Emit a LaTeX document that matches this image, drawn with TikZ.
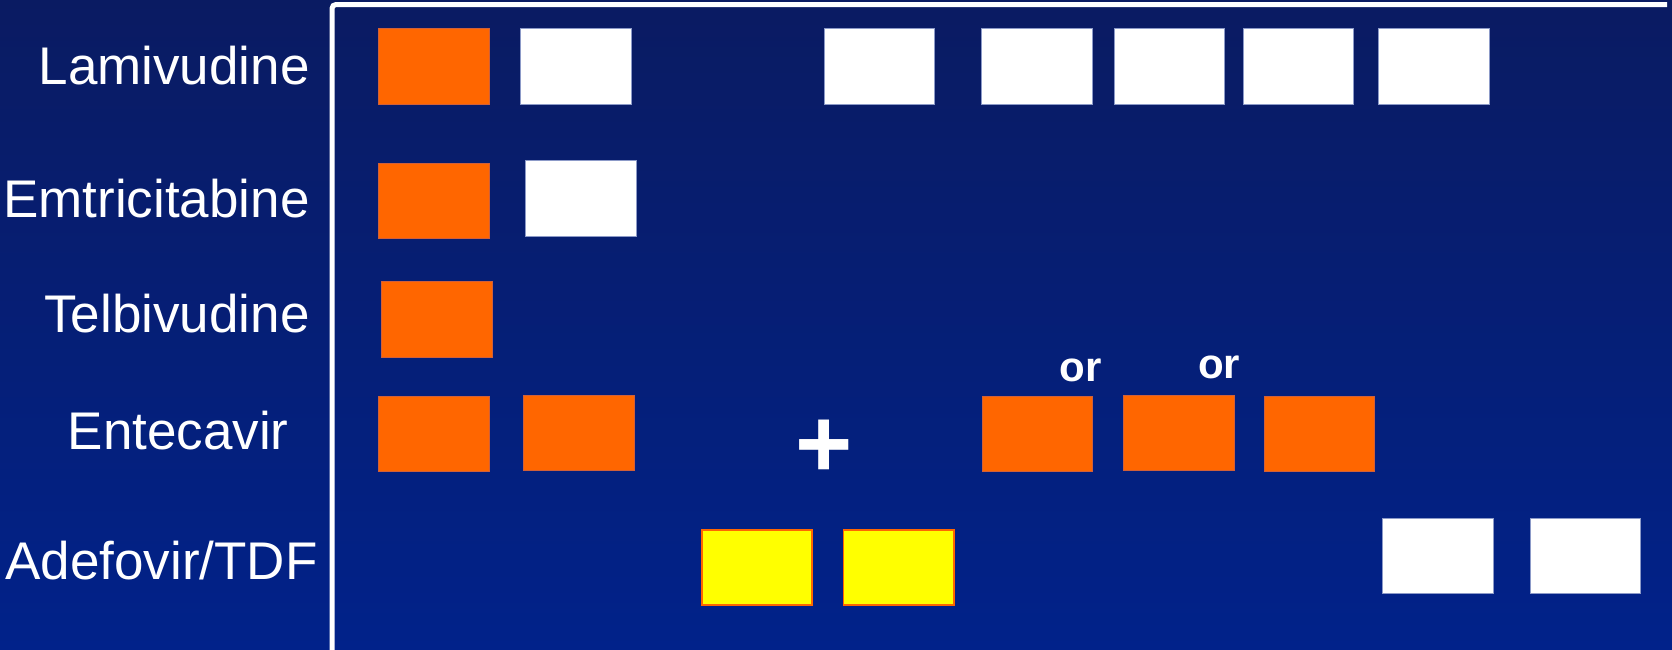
\documentclass[tikz,border=0pt]{standalone}
\usepackage{fontspec}
\setmainfont{Liberation Sans}
\usepackage{tikz}
\usetikzlibrary{positioning}
\definecolor{navytop}{HTML}{0A1B62}
\definecolor{navybot}{HTML}{01228A}
\definecolor{resorange}{HTML}{FF6600}
\definecolor{resyellow}{HTML}{FFFF00}
\definecolor{orangeedge}{HTML}{D0603A}
\definecolor{whiteedge}{HTML}{8C9AC8}

\begin{document}
\begin{tikzpicture}[x=0.5pt,y=-0.5pt]
\tikzset{box/.style={minimum width=55.3pt,minimum height=37.65pt,inner sep=0pt,outer sep=0pt,line width=0.4pt},
  res/.style={box,fill=resorange,draw=orangeedge},
  sens/.style={box,fill=white,draw=whiteedge},
  part/.style={box,fill=resyellow,draw=resorange,line width=0.9pt},
  drug/.style={text=white,inner sep=0pt,anchor=base east,font=\fontsize{26.5pt}{30pt}\selectfont},
  orlbl/.style={text=white,inner sep=0pt,anchor=base,font=\bfseries\fontsize{21pt}{24pt}\selectfont}}
\useasboundingbox (0,0) rectangle (1672,649);
\shade[top color=navytop,bottom color=navybot] (0,0) rectangle (1672,649);
% frame
\draw[white,line width=2.5pt,rounded corners=2pt] (332,652) -- (332,4.5) -- (1667,4.5);
% drug names
\node[drug] (lam) at (310,84) {Lamivudine};
\node[drug] (emt) at (310,217.5) {Emtricitabine};
\node[drug] (tel) at (310,332.5) {Telbivudine};
\node[drug] (ent) at (289,449) {Entecavir};
\node[drug] (ade) at (318,579) {Adefovir/TDF};
% Lamivudine
\node[res] (lam1) at (434,66.3) {};
\node[sens] (lam2) at (576,66.3) {};
\node[sens] (lam3) at (879.2,66.3) {};
\node[sens] (lam4) at (1037,66.3) {};
\node[sens] (lam5) at (1169.2,66.3) {};
\node[sens] (lam6) at (1298.3,66.3) {};
\node[sens] (lam7) at (1434,66.3) {};
% Emtricitabine
\node[res] (emt1) at (434,201) {};
\node[sens] (emt2) at (580.7,198.5) {};
% Telbivudine
\node[res] (tel1) at (436.7,319.3) {};
% Entecavir
\node[res] (ent1) at (434,433.7) {};
\node[res] (ent2) at (578.7,433) {};
\node[text=white,inner sep=0pt,anchor=base,font=\bfseries\fontsize{49pt}{50pt}\selectfont] (plus) at (823.7,477) {+};
\node[res] (ent3) at (1037.2,433.7) {};
\node[res] (ent4) at (1178.9,432.9) {};
\node[res] (ent5) at (1319.2,433.7) {};
\node[orlbl] (or1) at (1080.8,381.7) {or};
\node[orlbl] (or2) at (1219.2,378.3) {or};
% Adefovir/TDF
\node[part] (ade1) at (757,567.3) {};
\node[part] (ade2) at (898.8,567.3) {};
\node[sens] (ade3) at (1437.7,555.9) {};
\node[sens] (ade4) at (1585.3,555.9) {};
\end{tikzpicture}
\end{document}
